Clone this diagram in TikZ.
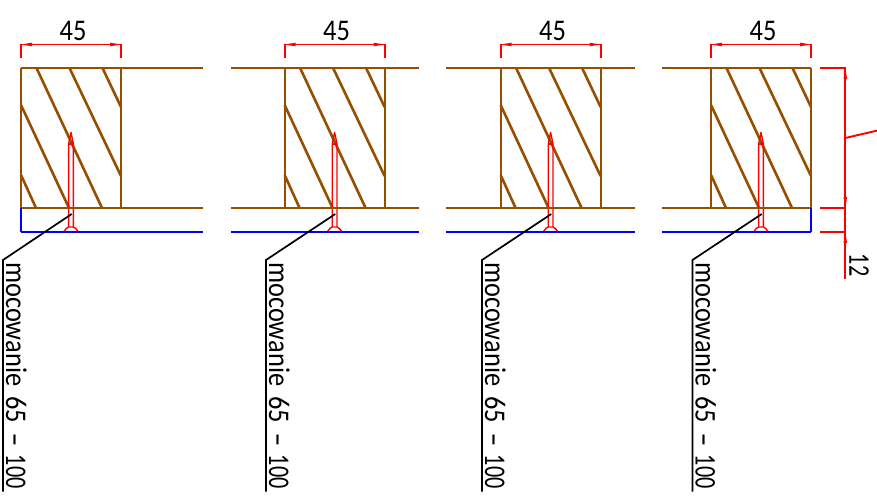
\documentclass[tikz,border=0pt]{standalone}
\usepackage{fontspec}
\setmainfont{Carlito}
\newfontfamily\narrowfont[FakeStretch=0.88]{Carlito}
\newfontfamily\tightfont[FakeStretch=0.74]{Carlito}
\definecolor{woodbrown}{RGB}{150,78,0}
\tikzset{
  board/.style={draw=woodbrown,line width=1.8pt},
  stud/.style={draw=woodbrown,line width=1.8pt},
  hatchline/.style={draw=woodbrown,line width=2.6pt},
  plasterline/.style={draw=blue,line width=1.8pt},
  nailline/.style={draw=red,line width=1.4pt,line join=round},
  leaderline/.style={draw=black,line width=1.7pt},
  dimline/.style={draw=red,line width=1.9pt},
  dimtext/.style={inner sep=0pt,font=\fontsize{30}{30}\selectfont},
  labeltext/.style={inner sep=0pt,rotate=-90,anchor=base west,font=\fontsize{30}{30}\selectfont},
}
\newcommand{\dimtip}[4]{% x y dx dy  (tip, unit direction)
  \fill[red] (#1,#2) -- ({#1-11*(#3)-1.8*(#4)},{#2-11*(#4)-1.8*(#3)}) -- ({#1-11*(#3)+1.8*(#4)},{#2-11*(#4)+1.8*(#3)}) -- cycle;}
\newcommand{\panel}[6]{% name L leftEnd rightEnd leaderX dimTextX
  \begin{scope}[shift={(#2,0)}]
    \coordinate (#1-tl) at (0,68); \coordinate (#1-tr) at (100,68);
    \coordinate (#1-bl) at (0,208); \coordinate (#1-br) at (100,208);
    \draw[hatchline] (15.5,68) -- (81,208);
    \draw[hatchline] (48.5,68) -- (100,176);
    \draw[hatchline] (81.5,68) -- (100,107);
    \draw[hatchline] (0,105) -- (48,208);
    \draw[hatchline] (0,175) -- (15,208);
    \draw[stud] (#1-tl) -- (#1-bl);
    \draw[stud] (#1-tr) -- (#1-br);
    \draw[nailline] (47.6,227) -- (47.6,144) -- (50,132.5) -- (52.4,144) -- (52.4,227);
    \draw[nailline] (47.6,144) -- (52.4,144);
    \draw[nailline] (42.5,232) .. controls (45,229) and (46,227) .. (47.6,227) -- (52.4,227) .. controls (54,227) and (55,229) .. (57.5,232);
    \draw[dimline] (0,43.5) -- (0,58);
    \draw[dimline] (100,43.5) -- (100,58);
    \draw[dimline] (0,44.5) -- (100,44.5);
    \dimtip{0}{44.5}{-1}{0}
    \dimtip{100}{44.5}{1}{0}
    \node[dimtext] (#1-dim) at (52,31) {\narrowfont 45};
  \end{scope}
  \coordinate (#1-a) at (#3,68); \coordinate (#1-b) at (#4,68);
  \coordinate (#1-c) at (#3,208); \coordinate (#1-d) at (#4,208);
  \coordinate (#1-e) at (#3,232); \coordinate (#1-f) at (#4,232);
  \draw[board] (#1-a) -- (#1-b);
  \draw[board] (#1-c) -- (#1-d);
  \draw[plasterline] (#1-e) -- (#1-f);
  \coordinate (#1-tip) at (#2+50.7,214);
  \coordinate (#1-elbow) at (#5,260);
  \coordinate (#1-end) at (#5,491.5);
  \draw[leaderline] (#1-tip) -- (#1-elbow) -- (#1-end);
  \node[labeltext] (#1-label) at (#5+3,262) {{\narrowfont mocowanie}\hspace{10pt}{\narrowfont 65}\hspace{10pt}\scalebox{1.4}[1]{-}\hspace{9pt}{\tightfont 100}};
}
\begin{document}
\begin{tikzpicture}[x=1pt,y=-1pt]
\useasboundingbox (0,0) rectangle (877,498);
\panel{pa}{21}{21}{203}{3}{72}
\panel{pb}{284.6}{231}{419}{266}{337}
\panel{pc}{500.6}{446}{635}{482}{553}
\panel{pd}{711}{662}{811}{692.5}{763}
\draw[plasterline] (pa-c) -- (pa-e);
\draw[plasterline] (pd-d) -- (pd-f);
% side dimensions
\draw[dimline] (820,68) -- (846,68);
\draw[dimline] (820,208) -- (846,208);
\draw[dimline] (820,232) -- (846,232);
\draw[dimline] (845.3,68) -- (845.3,279);
\dimtip{845.3}{68}{0}{-1}
\dimtip{845.3}{208}{0}{1}
\dimtip{845.3}{232}{0}{-1}
\coordinate (slantA) at (845.3,138);
\coordinate (slantB) at (877.5,130.5);
\draw[dimline] (slantA) -- (slantB);
\node[dimtext,rotate=-90] (twelve) at (859,265) {\tightfont 12};
\end{tikzpicture}
\end{document}
